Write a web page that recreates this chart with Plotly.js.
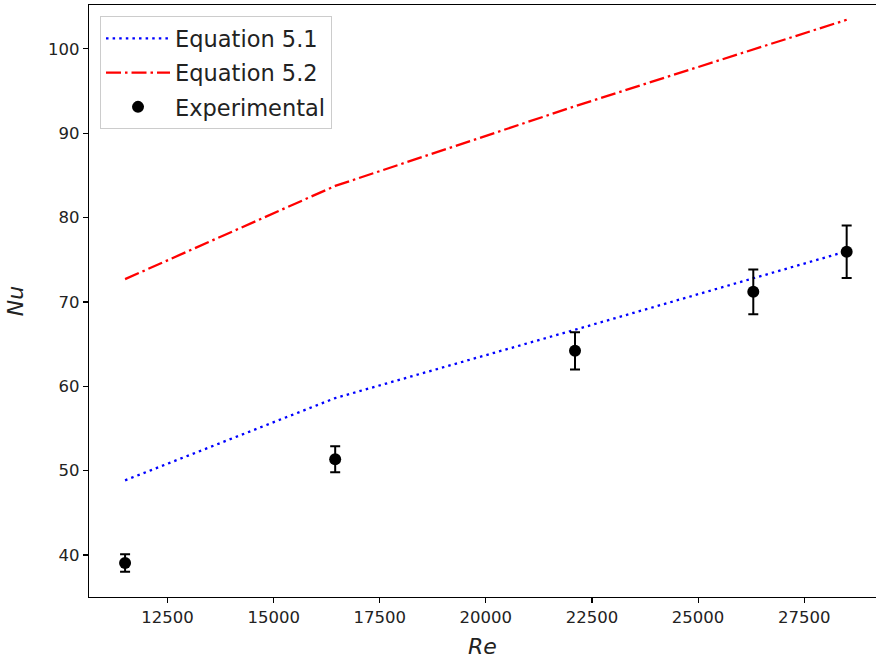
<!DOCTYPE html>
<html>
<head>
<meta charset="utf-8">
<script src="https://cdn.plot.ly/plotly-3.0.1.min.js"></script>
<style>html,body{margin:0;padding:0;background:#fff;}#chart{width:876px;height:659px;}</style>
</head>
<body>
<div id="chart"></div>
<script>
// Reynolds numbers (x)
const re = [11500, 16450, 22100, 26300, 28500];
// Equation 5.1 (blue dotted)
const eq51 = [48.85, 58.6, 66.7, 72.8, 76.0];
// Equation 5.2 (red dash-dot)
const eq52 = [72.7, 83.75, 93.2, 99.9, 103.45];
// Experimental Nusselt numbers and error bars
const nuExp = [39.05, 51.35, 64.2, 71.2, 75.95];
const nuErr = [1.05, 1.55, 2.2, 2.65, 3.1];

const traces = [
  {x: re, y: eq51, mode: 'lines', name: 'Equation 5.1', legendgroup: 'a',
   line: {color: '#0000ff', width: 2.3, dash: '2.5px,4.1px'}},
  {x: re, y: eq52, mode: 'lines', name: 'Equation 5.2', legendgroup: 'b',
   line: {color: '#ff0000', width: 2.3, dash: '15px,4px,2.5px,4px'}},
  {x: re, y: nuExp, mode: 'markers', name: 'Experimental', legendgroup: 'c',
   marker: {color: '#000', size: 12},
   error_y: {type: 'data', array: nuErr, visible: true, color: '#000', thickness: 2, width: 5}}
];

const layout = {
  width: 876, height: 659,
  margin: {l: 89, r: 0, t: 5, b: 62},
  paper_bgcolor: '#fff', plot_bgcolor: '#fff',
  font: {family: 'DejaVu Sans, sans-serif', color: '#222'},
  showlegend: true,
  legend: {x: 0.014, y: 0.981, xanchor: 'left', yanchor: 'top',
    bgcolor: 'rgba(255,255,255,0.9)', bordercolor: '#cccccc', borderwidth: 1,
    font: {size: 22.5, color: '#222'}, tracegroupgap: 2, traceorder: 'grouped',
    itemwidth: 64},
  xaxis: {range: [10650, 29191], tickvals: [12500, 15000, 17500, 20000, 22500, 25000, 27500],
    ticktext: ['12500','15000','17500','20000','22500','25000','27500'],
    showgrid: false, zeroline: false, showline: true, linecolor: '#000', linewidth: 1.2,
    mirror: true, ticks: 'outside', ticklen: 5, tickcolor: '#000', tickwidth: 1.2,
    tickfont: {size: 16.5, color: '#222'},
    title: {text: '<i>Re</i>', font: {size: 22, color: '#222'}, standoff: 12}},
  yaxis: {range: [35.02, 105.2], tickvals: [40, 50, 60, 70, 80, 90, 100],
    showgrid: false, zeroline: false, showline: true, linecolor: '#000', linewidth: 1.2,
    mirror: false, ticks: 'outside', ticklen: 5, tickcolor: '#000', tickwidth: 1.2,
    tickfont: {size: 16.5, color: '#222'},
    title: {text: '<i>Nu</i>', font: {size: 22, color: '#222'}, standoff: 18}}
};

Plotly.newPlot('chart', traces, layout, {displayModeBar: false, staticPlot: true});
</script>
</body>
</html>
